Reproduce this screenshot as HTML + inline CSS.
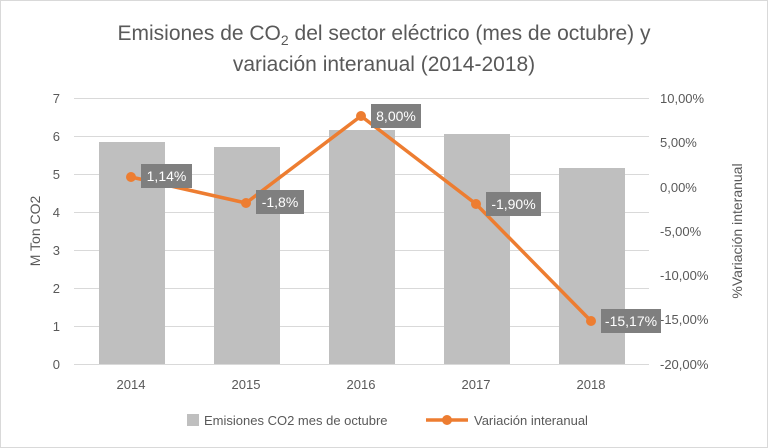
<!DOCTYPE html>
<html><head><meta charset="utf-8"><style>
body{margin:0;background:#fff}
svg{display:block;font-family:"Liberation Sans",sans-serif}
</style></head><body>
<svg width="768" height="448" viewBox="0 0 768 448">
<rect x="0.5" y="0.5" width="767" height="447" fill="#fff" stroke="#d9d9d9"/>
<text x="384" y="40" text-anchor="middle" font-size="21" fill="#595959">Emisiones de CO<tspan font-size="14" dy="5">2</tspan><tspan dy="-5"> del sector eléctrico (mes de octubre) y</tspan></text>
<text x="384" y="71" text-anchor="middle" font-size="21" fill="#595959">variación interanual (2014-2018)</text>
<g stroke="#d9d9d9" stroke-width="1">
<line x1="74" x2="649" y1="98.5" y2="98.5"/><line x1="74" x2="649" y1="136.5" y2="136.5"/>
<line x1="74" x2="649" y1="174.5" y2="174.5"/><line x1="74" x2="649" y1="212.5" y2="212.5"/>
<line x1="74" x2="649" y1="250.5" y2="250.5"/><line x1="74" x2="649" y1="288.5" y2="288.5"/>
<line x1="74" x2="649" y1="326.5" y2="326.5"/><line x1="74" x2="649" y1="364.5" y2="364.5"/>
</g>
<g fill="#bfbfbf">
<rect x="99" y="142" width="66" height="222"/>
<rect x="214" y="147" width="66" height="217"/>
<rect x="329" y="130" width="66" height="234"/>
<rect x="444" y="134" width="66" height="230"/>
<rect x="559" y="168" width="66" height="196"/>
</g>
<g font-size="13" fill="#595959" text-anchor="end">
<text x="60" y="103">7</text><text x="60" y="141">6</text><text x="60" y="179">5</text><text x="60" y="217">4</text>
<text x="60" y="255">3</text><text x="60" y="293">2</text><text x="60" y="331">1</text><text x="60" y="369">0</text>
</g>
<g font-size="13" fill="#595959">
<text x="660" y="103">10,00%</text><text x="660" y="147">5,00%</text><text x="660" y="192">0,00%</text>
<text x="660" y="236">-5,00%</text><text x="660" y="280">-10,00%</text><text x="660" y="324">-15,00%</text><text x="660" y="369">-20,00%</text>
</g>
<g font-size="13" fill="#595959" text-anchor="middle">
<text x="131" y="389">2014</text><text x="246" y="389">2015</text><text x="361" y="389">2016</text><text x="476" y="389">2017</text><text x="591" y="389">2018</text>
</g>
<text transform="translate(40,231) rotate(-90)" text-anchor="middle" font-size="14" fill="#595959">M Ton CO2</text>
<text transform="translate(742,231) rotate(-90)" text-anchor="middle" font-size="14" fill="#595959">%Variación interanual</text>
<polyline points="131,177 246,203 361,116 476,204 591,321" fill="none" stroke="#ed7d31" stroke-width="3.5" stroke-linejoin="round"/>
<g fill="#ed7d31">
<circle cx="131" cy="177" r="5"/><circle cx="246" cy="203" r="5"/><circle cx="361" cy="116" r="5"/><circle cx="476" cy="204" r="5"/><circle cx="591" cy="321" r="5"/>
</g>
<g fill="#7f7f7f">
<rect x="141" y="164" width="51" height="24"/><rect x="256" y="190" width="48" height="24"/>
<rect x="371" y="104" width="50" height="24"/><rect x="486" y="192" width="55" height="24"/>
<rect x="601" y="309" width="60" height="24"/>
</g>
<g font-size="14" fill="#fff" text-anchor="middle">
<text x="166.5" y="181">1,14%</text><text x="280" y="207">-1,8%</text><text x="396" y="121">8,00%</text>
<text x="513.5" y="209">-1,90%</text><text x="631" y="326">-15,17%</text>
</g>
<rect x="187" y="414" width="12" height="12" fill="#bfbfbf"/>
<text x="204" y="425" font-size="13" fill="#595959">Emisiones CO2 mes de octubre</text>
<line x1="426" x2="468" y1="420" y2="420" stroke="#ed7d31" stroke-width="3.5"/>
<circle cx="447" cy="420" r="5" fill="#ed7d31"/>
<text x="474" y="425" font-size="13" fill="#595959">Variación interanual</text>
</svg>
</body></html>
